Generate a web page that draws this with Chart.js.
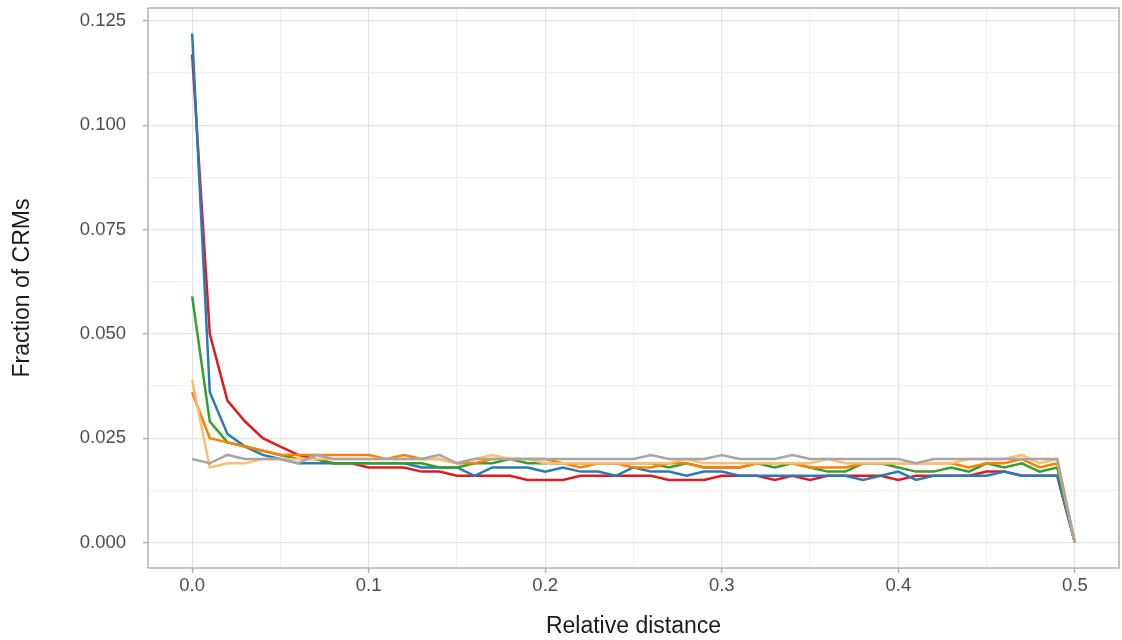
<!DOCTYPE html>
<html>
<head>
<meta charset="utf-8">
<title>Fraction of CRMs by relative distance</title>
<script src="https://cdn.jsdelivr.net/npm/chart.js@4.4.1/dist/chart.umd.min.js"></script>
<style>
html,body{margin:0;padding:0;background:#fff;}
#wrap{width:1122px;height:640px;}
</style>
</head>
<body>
<div id="wrap"><canvas id="chart" width="1122" height="640"></canvas></div>
<script>
// x positions (relative distance bins)
const relDist=[0.00,0.01,0.02,0.03,0.04,0.05,0.06,0.07,0.08,0.09,
    0.10,0.11,0.12,0.13,0.14,0.15,0.16,0.17,0.18,0.19,
    0.20,0.21,0.22,0.23,0.24,0.25,0.26,0.27,0.28,0.29,
    0.30,0.31,0.32,0.33,0.34,0.35,0.36,0.37,0.38,0.39,
    0.40,0.41,0.42,0.43,0.44,0.45,0.46,0.47,0.48,0.49,0.50];

const redLine=[0.117,0.050,0.034,0.029,0.025,0.023,0.021,0.020,0.019,0.019,
    0.018,0.018,0.018,0.017,0.017,0.016,0.016,0.016,0.016,0.015,
    0.015,0.015,0.016,0.016,0.016,0.016,0.016,0.015,0.015,0.015,
    0.016,0.016,0.016,0.015,0.016,0.015,0.016,0.016,0.016,0.016,
    0.015,0.016,0.016,0.016,0.016,0.017,0.017,0.016,0.016,0.016,0.000];

const blueLine=[0.122,0.036,0.026,0.023,0.021,0.020,0.019,0.019,0.019,0.019,
    0.019,0.019,0.019,0.018,0.018,0.018,0.016,0.018,0.018,0.018,
    0.017,0.018,0.017,0.017,0.016,0.018,0.017,0.017,0.016,0.017,
    0.017,0.016,0.016,0.016,0.016,0.016,0.016,0.016,0.015,0.016,
    0.017,0.015,0.016,0.016,0.016,0.016,0.017,0.016,0.016,0.016,0.000];

const greenLine=[0.059,0.029,0.024,0.023,0.022,0.021,0.020,0.020,0.019,0.019,
    0.019,0.019,0.019,0.019,0.018,0.018,0.019,0.019,0.020,0.019,
    0.019,0.019,0.019,0.019,0.019,0.019,0.019,0.018,0.019,0.018,
    0.018,0.018,0.019,0.018,0.019,0.018,0.017,0.017,0.019,0.019,
    0.018,0.017,0.017,0.018,0.017,0.019,0.018,0.019,0.017,0.018,0.000];

const orangeLine=[0.036,0.025,0.024,0.023,0.022,0.021,0.021,0.021,0.021,0.021,
    0.021,0.020,0.021,0.020,0.020,0.019,0.019,0.020,0.020,0.020,
    0.020,0.019,0.018,0.019,0.019,0.018,0.018,0.019,0.019,0.018,
    0.018,0.018,0.019,0.019,0.019,0.018,0.018,0.018,0.019,0.019,
    0.019,0.019,0.019,0.019,0.018,0.019,0.019,0.020,0.018,0.019,0.000];

const lightOrangeLine=[0.039,0.018,0.019,0.019,0.020,0.020,0.020,0.020,0.020,0.020,
    0.020,0.020,0.020,0.020,0.020,0.019,0.020,0.021,0.020,0.020,
    0.019,0.019,0.019,0.019,0.019,0.019,0.019,0.019,0.020,0.019,
    0.019,0.019,0.019,0.019,0.019,0.019,0.020,0.019,0.019,0.019,
    0.019,0.019,0.019,0.019,0.020,0.020,0.020,0.021,0.019,0.020,0.000];

const grayLine=[0.020,0.019,0.021,0.020,0.020,0.020,0.019,0.021,0.020,0.020,
    0.020,0.020,0.020,0.020,0.021,0.019,0.020,0.020,0.020,0.020,
    0.020,0.020,0.020,0.020,0.020,0.020,0.021,0.020,0.020,0.020,
    0.021,0.020,0.020,0.020,0.021,0.020,0.020,0.020,0.020,0.020,
    0.020,0.019,0.020,0.020,0.020,0.020,0.020,0.020,0.020,0.020,0.000];

const xTicks=[0.0,0.1,0.2,0.3,0.4,0.5];
const yTicks=[0.000,0.025,0.050,0.075,0.100,0.125];

const font="'Liberation Sans', Arial, sans-serif";

// major ticks plus a minor one halfway between each pair
function withMinor(list){
    let out=[];
    list.forEach(function(v,i){
        out.push({value:v});
        if(i<list.length-1) out.push({value:(v+list[i+1])/2,minor:true});
    });
    return out;
}

function series(vals,color,order){
    return {
        data:relDist.map((x,i)=>({x:x,y:vals[i]})),
        borderColor:color,
        borderWidth:2.5,
        pointRadius:0,
        tension:0,
        order:order
    };
}

// fixed box size, and no extra room for labels hanging past the panel
function fixBox(w,h){
    return s=>{
        if(w) s.width=w;
        if(h) s.height=h;
        s.paddingTop=0; s.paddingBottom=0;
        s.paddingLeft=0; s.paddingRight=0;
    };
}

// grey frame round the plot panel
const panelBorder={
    id:'panelBorder',
    afterDatasetsDraw(chart){
        const a=chart.chartArea, c=chart.ctx;
        c.save();
        c.strokeStyle='#b3b3b3';
        c.lineWidth=1.5;
        c.strokeRect(a.left,a.top,a.right-a.left,a.bottom-a.top);
        c.restore();
    }
};

const gridColor=ctx=>ctx.tick && ctx.tick.minor ? '#f1f1f1' : '#e3e3e3';
const tickColor=ctx=>ctx.tick && ctx.tick.minor ? 'rgba(0,0,0,0)' : '#b3b3b3';

new Chart(document.getElementById('chart'),{
    type:'line',
    data:{
        datasets:[
            series(redLine,'#e31a1c',5),
            series(blueLine,'#2a7ab9',4),
            series(greenLine,'#33a02c',3),
            series(orangeLine,'#ff7f00',2),
            series(lightOrangeLine,'#fdbf6f',1),
            series(grayLine,'#a6a6a6',0)
        ]
    },
    options:{
        responsive:false,
        animation:false,
        layout:{padding:{top:8,right:3,left:0,bottom:0}},
        plugins:{legend:{display:false},tooltip:{enabled:false}},
        scales:{
            x:{
                type:'linear',
                min:-0.025,
                max:0.525,
                afterBuildTicks:s=>{s.ticks=withMinor(xTicks);},
                afterFit:fixBox(0,72),
                border:{display:false},
                grid:{color:gridColor,tickColor:tickColor,lineWidth:1.2,tickLength:5,tickWidth:1.5},
                ticks:{
                    autoSkip:false,maxRotation:0,padding:2,color:'#4d4d4d',
                    font:{family:font,size:18.5},
                    callback:(v,i,t)=>t[i].minor?'':v.toFixed(1)
                },
                title:{display:true,text:'Relative distance',color:'#1a1a1a',
                    font:{family:font,size:23},padding:{top:0,bottom:0}}
            },
            y:{
                type:'linear',
                min:-0.0061,
                max:0.1281,
                afterBuildTicks:s=>{s.ticks=withMinor(yTicks);},
                afterFit:fixBox(148,0),
                border:{display:false},
                grid:{color:gridColor,tickColor:tickColor,lineWidth:1.2,tickLength:5,tickWidth:1.5},
                ticks:{
                    autoSkip:false,padding:17,color:'#4d4d4d',
                    font:{family:font,size:18.5},
                    callback:(v,i,t)=>t[i].minor?'':v.toFixed(3)
                },
                title:{display:true,text:'Fraction of CRMs',color:'#1a1a1a',
                    font:{family:font,size:23},padding:{top:9,bottom:0}}
            }
        }
    },
    plugins:[panelBorder]
});
</script>
</body>
</html>
